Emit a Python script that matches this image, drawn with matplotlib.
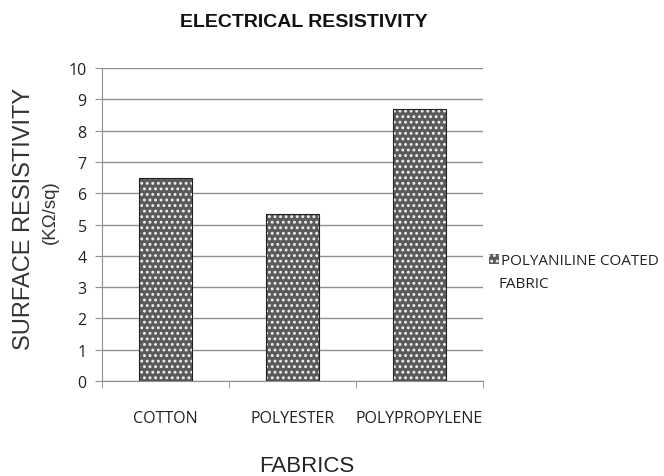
import matplotlib
matplotlib.use("Agg")
from matplotlib import pyplot as plt
from matplotlib.patches import Patch

fabrics = ['COTTON', 'POLYESTER', 'POLYPROPYLENE']
resistivity = [6.5, 5.35, 8.7]
series_name = ['POLYANILINE COATED', 'FABRIC']

plt.rcParams['font.family'] = ['Open Sans', 'DejaVu Sans']
plt.rcParams['hatch.linewidth'] = 1.3

fig = plt.figure(figsize=(6.64, 4.77), dpi=100)
ax = fig.add_axes([0.1536, 0.1992, 0.5738, 0.656])

bar_face = '#5a5a5a'
bar_hatch = '...'

x = range(len(fabrics))
# hatched fill first, then a dark outline on top
ax.bar(x, resistivity, width=0.41, color=bar_face, edgecolor='#f0f0f0', hatch=bar_hatch, linewidth=0, zorder=3)
ax.bar(x, resistivity, width=0.41, fill=False, edgecolor='#222222', linewidth=0.8, zorder=4)

ax.set_xlim(-0.5, 2.5)
ax.set_ylim(0, 10)
ax.set_yticks(range(0, 11))
ax.yaxis.grid(True, color='#8f8f8f', linewidth=1.0)
ax.set_axisbelow(True)

ax.set_xticks(x)
ax.set_xticklabels(fabrics, fontsize=11.5, color='#222222')
ax.set_xticks([-0.5, 0.5, 1.5, 2.5], minor=True)
ax.tick_params(axis='x', which='major', length=0, pad=21)
ax.tick_params(axis='x', which='minor', length=5, color='#8f8f8f', direction='out')
ax.tick_params(axis='y', length=5, color='#8f8f8f', labelsize=11.5, labelcolor='#222222', pad=6)

for side in ['top', 'right']:
    ax.spines[side].set_visible(False)
ax.spines['left'].set_color('#8f8f8f')
ax.spines['bottom'].set_color('#8f8f8f')

fig.text(0.458, 0.953, 'ELECTRICAL RESISTIVITY', ha='center', va='center',
         family='Liberation Sans', fontsize=14, fontweight='bold', color='#111111')
fig.text(0.462, 0.023, 'FABRICS', ha='center', va='center',
         family='Liberation Sans', fontsize=16, color='#222222')
fig.text(0.036, 0.541, 'SURFACE RESISTIVITY', rotation=90, ha='center', va='center',
         family='Liberation Sans', fontsize=17, color='#333333')
fig.text(0.076, 0.556, '(K\u03a9/sq)', rotation=90, ha='center', va='center',
         family='Liberation Sans', fontsize=13.5, color='#333333')

# legend entry wraps onto a second line under the label text
handle = Patch(facecolor=bar_face, edgecolor='#f0f0f0', hatch=bar_hatch, linewidth=0)
leg = fig.legend([handle], [series_name[0]], loc='center left', bbox_to_anchor=(0.737, 0.451),
                 frameon=False, fontsize=11, handlelength=0.6, handleheight=0.6,
                 handletextpad=0.15, borderpad=0, borderaxespad=0, labelcolor='#222222')
fig.text(0.750, 0.403, series_name[1], ha='left', va='center', fontsize=11, color='#222222')

fig.savefig('out.png', dpi=100)
